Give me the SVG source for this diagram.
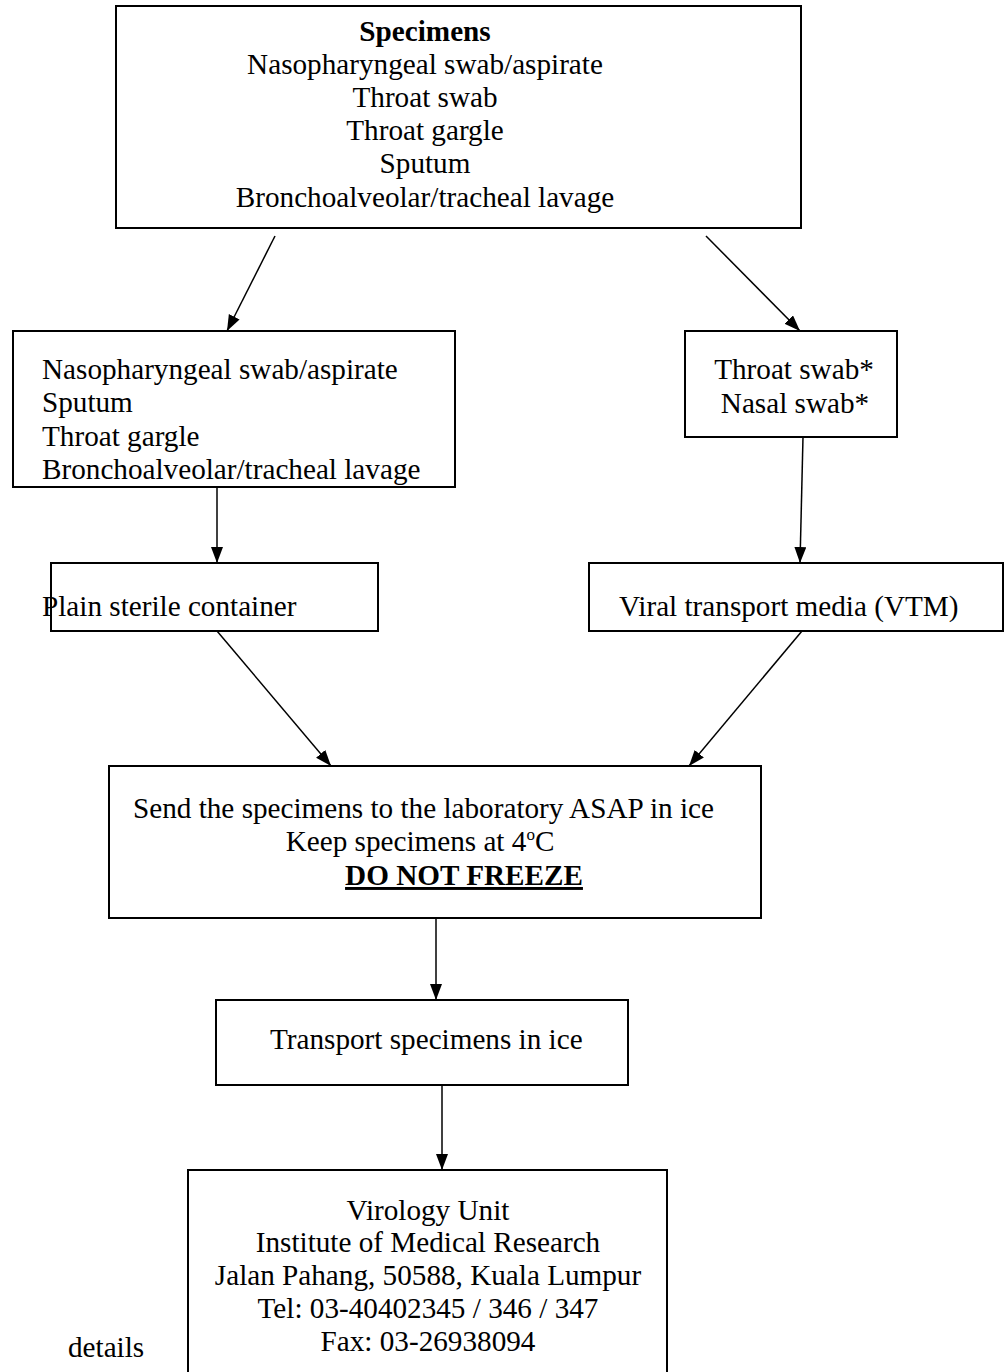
<svg xmlns="http://www.w3.org/2000/svg" width="1005" height="1372" viewBox="0 0 1005 1372">
<style>
  .box { fill: #fff; stroke: #000; stroke-width: 2; }
  .t { font-family: "Liberation Serif", "Times New Roman", serif; font-size: 29.2px; fill: #000; }
  .c { text-anchor: middle; }
  .b { font-weight: bold; }
  .edge { stroke: #000; stroke-width: 1.5; fill: none; marker-end: url(#ah); }
</style>
<defs>
  <marker id="ah" markerUnits="userSpaceOnUse" markerWidth="18" markerHeight="14" refX="16" refY="6" orient="auto">
    <path d="M0,0 L16,6 L0,12 Z" fill="#000"/>
  </marker>
</defs>
<rect width="1005" height="1372" fill="#fff"/>

<g id="connectors">
  <line class="edge" x1="275" y1="236" x2="227" y2="331"/>
  <line class="edge" x1="706" y1="236" x2="800" y2="331"/>
  <line class="edge" x1="217" y1="487" x2="217" y2="563"/>
  <line class="edge" x1="803" y1="437" x2="800" y2="563"/>
  <line class="edge" x1="217" y1="631" x2="331" y2="766"/>
  <line class="edge" x1="802" y1="631" x2="689" y2="766"/>
  <line class="edge" x1="436" y1="918" x2="436" y2="1000"/>
  <line class="edge" x1="442" y1="1085" x2="442" y2="1170"/>
</g>

<g id="specimens">
  <rect class="box" x="116" y="6" width="685" height="222"/>
  <text class="t c b" x="425" y="41">Specimens</text>
  <text class="t c" x="425" y="74">Nasopharyngeal swab/aspirate</text>
  <text class="t c" x="425" y="107">Throat swab</text>
  <text class="t c" x="425" y="140">Throat gargle</text>
  <text class="t c" x="425" y="173">Sputum</text>
  <text class="t c" x="425" y="207">Bronchoalveolar/tracheal lavage</text>
</g>

<g id="left-specimens">
  <rect class="box" x="13" y="331" width="442" height="156"/>
  <text class="t" x="42" y="379">Nasopharyngeal swab/aspirate</text>
  <text class="t" x="42" y="412">Sputum</text>
  <text class="t" x="42" y="446">Throat gargle</text>
  <text class="t" x="42" y="479">Bronchoalveolar/tracheal lavage</text>
</g>

<g id="right-specimens">
  <rect class="box" x="685" y="331" width="212" height="106"/>
  <text class="t c" x="794" y="379">Throat swab*</text>
  <text class="t c" x="795" y="413">Nasal swab*</text>
</g>

<g id="plain-container">
  <rect class="box" x="51" y="563" width="327" height="68"/>
  <text class="t" x="42" y="616">Plain sterile container</text>
</g>

<g id="vtm">
  <rect class="box" x="589" y="563" width="414" height="68"/>
  <text class="t" x="619" y="616">Viral transport media (VTM)</text>
</g>

<g id="send">
  <rect class="box" x="109" y="766" width="652" height="152"/>
  <text class="t" x="133" y="818">Send the specimens to the laboratory ASAP in ice</text>
  <text class="t c" x="420" y="851">Keep specimens at 4<tspan font-size="17" dy="-11">o</tspan><tspan dy="11">C</tspan></text>
  <text class="t c b" x="464" y="885" font-size="27" text-decoration="underline">DO NOT FREEZE</text>
</g>

<g id="transport">
  <rect class="box" x="216" y="1000" width="412" height="85"/>
  <text class="t" x="270" y="1049">Transport specimens in ice</text>
</g>

<g id="virology">
  <rect class="box" x="188" y="1170" width="479" height="215"/>
  <text class="t c" x="428" y="1220">Virology Unit</text>
  <text class="t c" x="428" y="1252">Institute of Medical Research</text>
  <text class="t c" x="428" y="1285">Jalan Pahang, 50588, Kuala Lumpur</text>
  <text class="t c" x="428" y="1318">Tel: 03-40402345 / 346 / 347</text>
  <text class="t c" x="428" y="1351">Fax: 03-26938094</text>
</g>

<text class="t" x="68" y="1357">details</text>
</svg>
